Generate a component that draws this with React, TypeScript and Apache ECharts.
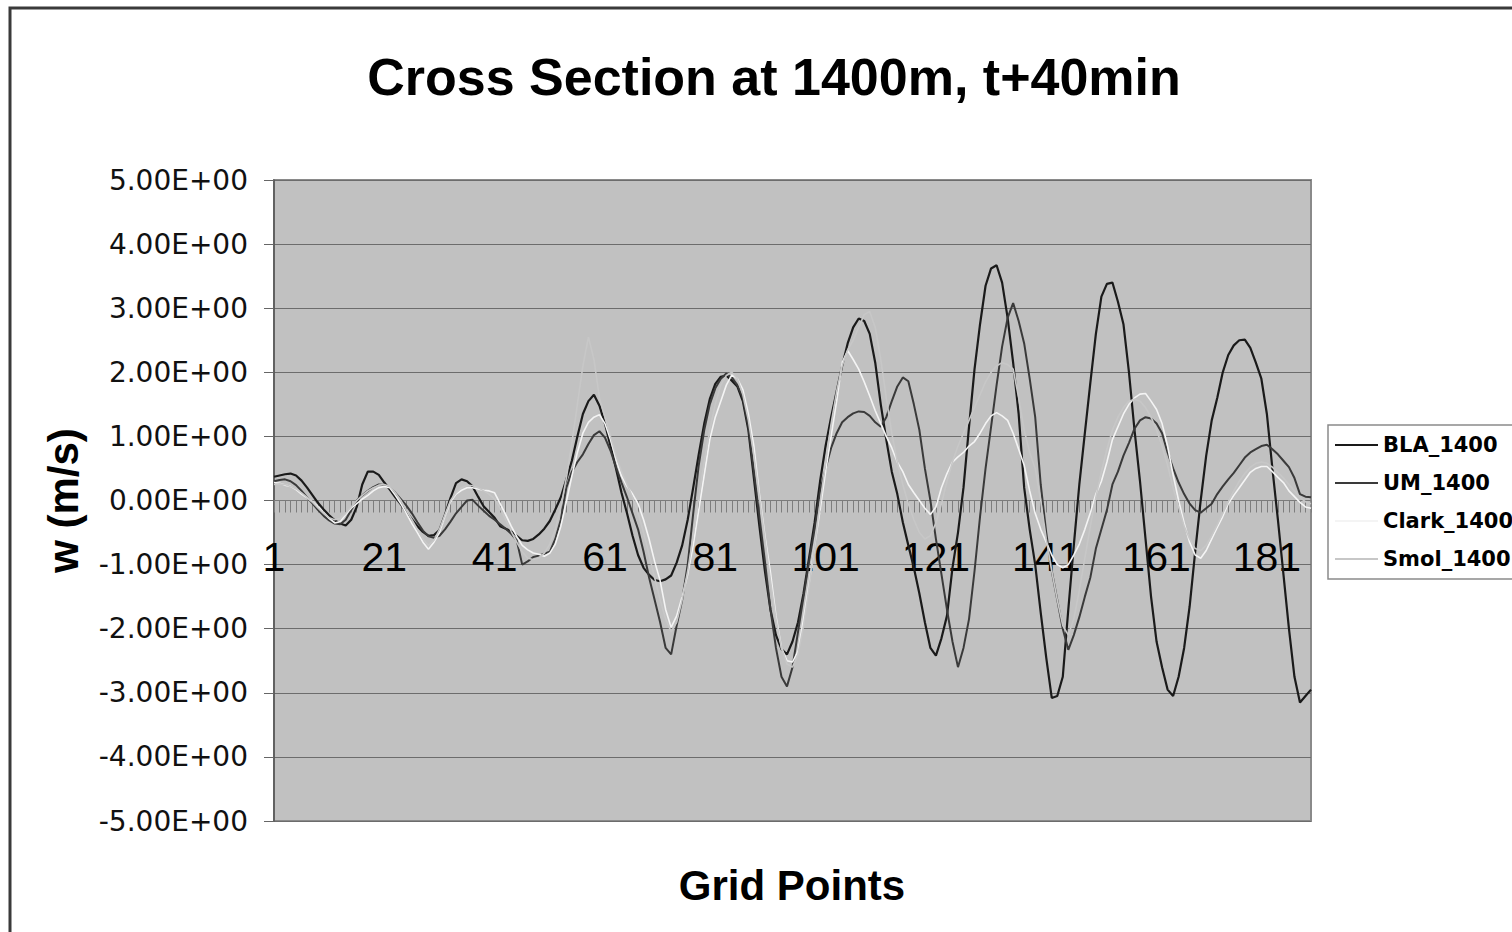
import { useEffect, useRef } from "react";
import * as echarts from "echarts";

// Vertical velocity w (m/s) along the cross section at 1400 m, t+40 min
const seriesNames = ["BLA_1400", "UM_1400", "Clark_1400", "Smol_1400"];
const seriesColors = ["#1a1a1a", "#3a3a3a", "#f4f4f4", "#c7c7c7"];
const gridPoints = Array.from({ length: 189 }, (_, i) => String(i + 1));

const bla = [
  0.37, 0.39, 0.41, 0.42, 0.39, 0.31, 0.2, 0.08, -0.04, -0.14,
  -0.23, -0.31, -0.36, -0.39, -0.3, -0.1, 0.25, 0.45, 0.45, 0.4,
  0.28, 0.17, 0.05, -0.06, -0.18, -0.29, -0.4, -0.49, -0.55, -0.54,
  -0.46, -0.22, 0.04, 0.27, 0.33, 0.3, 0.22, 0.06, -0.09, -0.18,
  -0.27, -0.4, -0.44, -0.48, -0.55, -0.62, -0.63, -0.6, -0.53, -0.44,
  -0.32, -0.14, 0.05, 0.33, 0.62, 1.0, 1.35, 1.55, 1.65, 1.48,
  1.2, 0.85, 0.5, 0.12, -0.2, -0.55, -0.85, -1.05, -1.16, -1.24,
  -1.26, -1.23, -1.17, -0.97, -0.7, -0.3, 0.2, 0.72, 1.2, 1.58,
  1.82, 1.93, 1.95, 1.87, 1.78, 1.55, 1.1, 0.35, -0.4, -1.1,
  -1.7, -2.1, -2.32, -2.4, -2.2, -1.9, -1.45, -0.9, -0.35, 0.3,
  0.85, 1.3, 1.7, 2.1, 2.45, 2.7, 2.84, 2.8, 2.6, 2.15,
  1.5, 0.95, 0.45, 0.1, -0.34, -0.7, -1.05, -1.45, -1.9, -2.3,
  -2.42, -2.15, -1.8, -1.05, -0.5, 0.2, 1.15, 2.05, 2.75, 3.35,
  3.62, 3.67, 3.4, 2.85, 2.15, 1.35, 0.2, -0.45, -1.0, -1.75,
  -2.45, -3.08, -3.05, -2.75, -1.7, -0.7, 0.25, 1.05, 1.84, 2.6,
  3.18, 3.38, 3.4, 3.1, 2.75, 2.0, 1.1, 0.3, -0.6, -1.5,
  -2.2, -2.6, -2.95, -3.05, -2.75, -2.3, -1.65, -0.8, 0.0, 0.7,
  1.25, 1.6, 2.0, 2.27, 2.42, 2.5, 2.51, 2.38, 2.15, 1.9,
  1.35, 0.5, -0.3, -1.15, -2.0, -2.75, -3.15, -3.05, -2.95,
];

const um = [
  0.3, 0.32, 0.33, 0.3, 0.24, 0.15, 0.05, -0.05, -0.15, -0.24,
  -0.31, -0.36, -0.37, -0.3, -0.15, 0.0, 0.08, 0.15, 0.21, 0.25,
  0.24, 0.2, 0.12, 0.02, -0.08, -0.2, -0.34, -0.47, -0.56, -0.58,
  -0.55, -0.45, -0.33, -0.2, -0.1, 0.0, 0.01, -0.08, -0.16, -0.24,
  -0.3, -0.37, -0.44, -0.52, -0.62, -1.0, -0.95, -0.88, -0.86, -0.83,
  -0.8, -0.6, -0.3, 0.2, 0.45, 0.6, 0.72, 0.88, 1.02, 1.08,
  0.98, 0.78, 0.52, 0.28, 0.05, -0.2, -0.45, -0.8, -1.2, -1.55,
  -1.9, -2.3, -2.4, -1.95, -1.55, -1.0, -0.2, 0.55, 1.1, 1.5,
  1.75, 1.9, 1.98, 1.92, 1.8, 1.6, 1.15, 0.45, -0.25, -0.95,
  -1.7, -2.3, -2.75, -2.9, -2.6, -2.05, -1.5, -0.95, -0.45, 0.15,
  0.5, 0.82, 1.05, 1.22, 1.3, 1.36, 1.39, 1.38, 1.32, 1.22,
  1.15, 1.3, 1.55, 1.78, 1.92, 1.86, 1.5, 1.1, 0.5, 0.0,
  -0.6, -1.15, -1.7, -2.2, -2.6, -2.3, -1.85, -1.1, -0.25, 0.5,
  1.15, 1.8, 2.4, 2.85, 3.08, 2.8, 2.45, 1.9, 1.3, 0.25,
  -0.5, -1.1, -1.55, -2.0, -2.33, -2.1, -1.82, -1.5, -1.2, -0.75,
  -0.45, -0.15, 0.25, 0.45, 0.7, 0.9, 1.12, 1.25, 1.3, 1.28,
  1.2, 1.05, 0.75, 0.5, 0.28, 0.1, -0.05, -0.15, -0.19, -0.12,
  -0.05, 0.1, 0.22, 0.33, 0.43, 0.55, 0.67, 0.75, 0.8, 0.85,
  0.87, 0.8, 0.72, 0.62, 0.52, 0.35, 0.1, 0.06, 0.05,
];

const clark = [
  0.28, 0.27, 0.24, 0.22, 0.17, 0.1, 0.04, -0.02, -0.1, -0.19,
  -0.28, -0.35, -0.33, -0.22, -0.12, -0.05, 0.02, 0.08, 0.15, 0.2,
  0.22, 0.2, 0.08, -0.05, -0.2, -0.36, -0.5, -0.65, -0.76, -0.65,
  -0.5, -0.25, -0.02, 0.1, 0.16, 0.2, 0.2, 0.18, 0.16, 0.15,
  0.12, -0.05, -0.22, -0.4, -0.56, -0.7, -0.77, -0.82, -0.84, -0.87,
  -0.82, -0.68, -0.4, -0.02, 0.38, 0.75, 1.05, 1.22, 1.3, 1.34,
  1.2, 0.95, 0.65, 0.38, 0.22, 0.1, -0.05, -0.3, -0.6, -0.95,
  -1.25, -1.7, -1.98, -1.8, -1.5, -1.15, -0.7, -0.15, 0.4, 0.95,
  1.3, 1.55, 1.8, 1.96, 1.9, 1.73, 1.35, 0.85, 0.1, -0.55,
  -1.12, -1.8, -2.3, -2.5, -2.52, -2.35, -1.85, -1.3, -0.7, -0.15,
  0.45, 1.0, 1.55, 2.15, 2.34, 2.2, 2.05, 1.85, 1.63, 1.4,
  1.2, 1.0, 0.82, 0.6, 0.45, 0.25, 0.12, 0.0, -0.12, -0.22,
  -0.1, 0.2, 0.42, 0.6, 0.68, 0.75, 0.85, 0.92, 1.05, 1.2,
  1.32, 1.37, 1.32, 1.25, 1.05, 0.8, 0.55, 0.15, -0.2, -0.45,
  -0.65, -0.85, -1.0, -1.05, -1.0, -0.85, -0.68, -0.45, -0.19, 0.1,
  0.3, 0.6, 0.95, 1.15, 1.35, 1.5, 1.6, 1.66, 1.67, 1.55,
  1.42, 1.2, 0.85, 0.4, 0.0, -0.35, -0.65, -0.85, -0.9, -0.78,
  -0.6, -0.42, -0.25, -0.05, 0.08, 0.2, 0.32, 0.44, 0.5, 0.53,
  0.53, 0.45, 0.36, 0.28, 0.15, 0.06, -0.03, -0.1, -0.12,
];

const smol = [
  0.25, 0.26, 0.25, 0.22, 0.18, 0.12, 0.05, -0.03, -0.12, -0.2,
  -0.27, -0.3, -0.28, -0.2, -0.1, 0.0, 0.08, 0.15, 0.2, 0.24,
  0.25, 0.22, 0.12, 0.0, -0.15, -0.3, -0.45, -0.6, -0.7, -0.62,
  -0.45, -0.22, 0.0, 0.12, 0.2, 0.24, 0.23, 0.2, 0.15, 0.1,
  0.02, -0.12, -0.3, -0.48, -0.65, -0.8, -0.9, -0.92, -0.9, -0.82,
  -0.68, -0.45, -0.1, 0.35, 0.9, 1.5, 2.1, 2.55, 2.2, 1.6,
  1.3, 1.0, 0.7, 0.45, 0.25, 0.05, -0.2, -0.5, -0.85, -1.2,
  -1.55, -1.85, -2.05, -1.9, -1.55, -1.1, -0.55, 0.05, 0.6, 1.1,
  1.5, 1.8, 1.95, 2.0, 1.9, 1.65, 1.25, 0.7, 0.05, -0.6,
  -1.25, -1.85, -2.3, -2.55, -2.6, -2.4, -1.95, -1.35, -0.7, -0.05,
  0.6, 1.2, 1.7, 2.1, 2.35, 2.5, 2.7, 2.9, 2.95, 2.7,
  2.2, 1.6, 1.05, 0.6, 0.25, -0.05, -0.3, -0.5, -0.6, -0.55,
  -0.35, -0.05, 0.3, 0.6, 0.85, 1.05, 1.25, 1.45, 1.65, 1.85,
  2.0, 2.1, 2.15, 2.12, 2.05, 1.6, 1.1, 0.75, 0.5, 0.0,
  -0.6, -1.1, -1.55, -1.95, -2.1, -1.85, -1.4, -0.9, -0.4, 0.05,
  0.45, 0.8, 1.1, 1.3, 1.45, 1.55, 1.58, 1.55, 1.45, 1.3,
  1.1, 0.85, 0.55, 0.2, -0.1, -0.4, -0.6, -0.75, -0.78, -0.7,
  -0.55, -0.38, -0.2, -0.02, 0.15, 0.3, 0.42, 0.52, 0.58, 0.6,
  0.58, 0.52, 0.44, 0.35, 0.25, 0.15, 0.05, -0.02, -0.05,
];

const seriesData = [bla, um, clark, smol];
const seriesWidths = [2.2, 2, 1.6, 1.6];

const yMin = -5;
const yMax = 5;
const yStep = 1;

// plot rectangle, in pixels
const plotLeft = 274;
const plotTop = 180;
const plotWidth = 1037;
const plotHeight = 641;
// the category axis crosses the value axis at w = 0
const zeroOffset = -plotHeight * (0 - yMin) / (yMax - yMin);

const formatSci = (v: number) => `${v.toFixed(2)}E+00`;

export default function App() {
  const ref = useRef<HTMLDivElement>(null);

  useEffect(() => {
    if (!ref.current) return;
    const chart = echarts.init(ref.current, undefined, { renderer: "svg" });
    chart.setOption({
      animation: false,
      backgroundColor: "#ffffff",
      title: {
        text: "Cross Section at 1400m, t+40min",
        left: 769,
        top: 46,
        textAlign: "center",
        textStyle: {
          fontFamily: '"Liberation Sans", Arial, sans-serif',
          fontWeight: "bold",
          fontSize: 52,
          color: "#000",
        },
      },
      grid: {
        left: plotLeft,
        top: plotTop,
        width: plotWidth,
        height: plotHeight,
        show: true,
        backgroundColor: "#c1c1c1",
        borderColor: "#8a8a8a",
        borderWidth: 2,
      },
      legend: {
        orient: "vertical",
        left: 1328,
        top: 425,
        data: seriesNames,
        icon: "rect",
        itemWidth: 43,
        itemHeight: 2,
        itemGap: 14,
        padding: [8, 10, 8, 7],
        backgroundColor: "#ffffff",
        borderColor: "#8a8a8a",
        borderWidth: 1.5,
        borderRadius: 0,
        textStyle: {
          fontFamily: '"DejaVu Sans", sans-serif',
          fontWeight: "bold",
          fontSize: 21,
          lineHeight: 24,
          color: "#000",
        },
      },
      xAxis: {
        type: "category",
        data: gridPoints,
        boundaryGap: false,
        position: "bottom",
        offset: zeroOffset,
        axisLine: { show: true, onZero: false, lineStyle: { color: "#7a7a7a", width: 1 } },
        axisTick: { show: true, interval: 0, length: 12, lineStyle: { color: "#7d7d7d", width: 1 } },
        axisLabel: {
          interval: 19,
          fontFamily: '"Liberation Sans", Arial, sans-serif',
          fontSize: 41,
          color: "#000",
          margin: 36,
        },
        splitLine: { show: false },
      },
      yAxis: {
        type: "value",
        min: yMin,
        max: yMax,
        interval: yStep,
        name: "w (m/s)",
        nameLocation: "middle",
        nameRotate: 90,
        nameGap: 190,
        nameTextStyle: {
          fontFamily: '"Liberation Sans", Arial, sans-serif',
          fontWeight: "bold",
          fontSize: 42,
          color: "#000",
        },
        axisLine: { show: true, onZero: false, lineStyle: { color: "#555", width: 1.5 } },
        axisTick: { show: true, length: 10, lineStyle: { color: "#666" } },
        axisLabel: {
          formatter: formatSci,
          fontFamily: '"DejaVu Sans", sans-serif',
          fontSize: 28,
          color: "#111",
          margin: 26,
        },
        splitLine: { show: true, lineStyle: { color: "#6c6c6c", width: 1 } },
      },
      graphic: [
        {
          type: "rect",
          silent: true,
          shape: { x: 10, y: 8, width: 1600, height: 1000 },
          style: { fill: "none", stroke: "#3a3a3a", lineWidth: 3 },
        },
        {
          type: "text",
          x: 792,
          y: 885,
          silent: true,
          style: {
            text: "Grid Points",
            fontFamily: '"Liberation Sans", Arial, sans-serif',
            fontWeight: "bold",
            fontSize: 42,
            fill: "#000",
            align: "center",
            verticalAlign: "middle",
          },
        },
      ],
      series: seriesNames.map((name, k) => ({
        name,
        type: "line",
        data: seriesData[k],
        color: seriesColors[k],
        symbol: "none",
        showSymbol: false,
        lineStyle: { color: seriesColors[k], width: seriesWidths[k] },
      })),
    });
    return () => chart.dispose();
  }, []);

  return (
    <div
      ref={ref}
      style={{ position: "fixed", left: 0, top: 0, width: 1512, height: 932, background: "#fff" }}
    />
  );
}
